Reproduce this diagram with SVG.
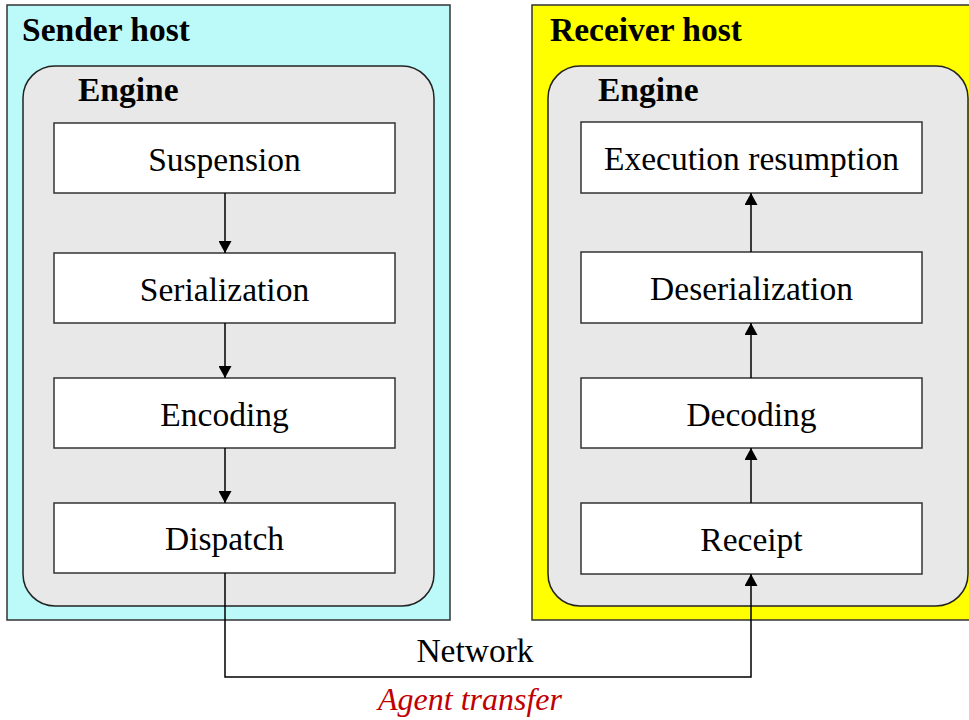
<svg xmlns="http://www.w3.org/2000/svg" width="969" height="720" viewBox="0 0 969 720">
<style>
.host{stroke:#333;stroke-width:1.5}
.engine{fill:#e8e8e8;stroke:#222;stroke-width:1.5}
.box{fill:#fff;stroke:#333;stroke-width:1.5}
.title{font-family:"Liberation Serif","Times New Roman",serif;font-weight:bold;font-size:33.5px;fill:#000}
.lbl{font-family:"Liberation Serif","Times New Roman",serif;font-size:33.5px;fill:#000;text-anchor:middle}
.conn{fill:none;stroke:#000;stroke-width:1.5}
.red{font-family:"Liberation Serif","Times New Roman",serif;font-style:italic;font-size:32px;fill:#c00000;text-anchor:middle}
</style>
<defs>
<marker id="ah" markerWidth="12" markerHeight="13" refX="12" refY="6.5" orient="auto" markerUnits="userSpaceOnUse">
<path d="M0,0 L12,6.5 L0,13 Z" fill="#000"/>
</marker>
</defs>
<rect width="969" height="720" fill="#fff"/>
<g id="sender-host">
<rect class="host" x="7" y="5" width="443" height="615" fill="#bcfafa"/>
<text class="title" x="22" y="41">Sender host</text>
</g>
<g id="sender-engine">
<rect class="engine" x="23" y="66" width="411" height="540" rx="32" ry="32"/>
<text class="title" x="78" y="101">Engine</text>
</g>
<g id="receiver-host">
<rect class="host" x="532" y="5" width="445" height="615" fill="#ffff00"/>
<text class="title" x="550" y="41">Receiver host</text>
</g>
<g id="receiver-engine">
<rect class="engine" x="548" y="66" width="420" height="540" rx="32" ry="32"/>
<text class="title" x="598" y="101">Engine</text>
</g>
<g id="suspension">
<rect class="box" x="54" y="123" width="341" height="70"/>
<text class="lbl" x="224.5" y="171">Suspension</text>
</g>
<g id="serialization">
<rect class="box" x="54" y="253" width="341" height="70"/>
<text class="lbl" x="224.5" y="301">Serialization</text>
</g>
<g id="encoding">
<rect class="box" x="54" y="378" width="341" height="70"/>
<text class="lbl" x="224.5" y="426">Encoding</text>
</g>
<g id="dispatch">
<rect class="box" x="54" y="503" width="341" height="70"/>
<text class="lbl" x="224.5" y="550">Dispatch</text>
</g>
<g id="execution-resumption">
<rect class="box" x="581" y="122" width="341" height="71"/>
<text class="lbl" x="751.5" y="170">Execution resumption</text>
</g>
<g id="deserialization">
<rect class="box" x="581" y="252" width="341" height="71"/>
<text class="lbl" x="751.5" y="300">Deserialization</text>
</g>
<g id="decoding">
<rect class="box" x="581" y="378" width="341" height="70"/>
<text class="lbl" x="751.5" y="426">Decoding</text>
</g>
<g id="receipt">
<rect class="box" x="581" y="503" width="341" height="71"/>
<text class="lbl" x="751.5" y="551">Receipt</text>
</g>
<g id="connectors">
<line class="conn" x1="225" y1="193" x2="225" y2="253" marker-end="url(#ah)"/>
<line class="conn" x1="225" y1="323" x2="225" y2="378" marker-end="url(#ah)"/>
<line class="conn" x1="225" y1="448" x2="225" y2="503" marker-end="url(#ah)"/>
<line class="conn" x1="751" y1="503" x2="751" y2="448" marker-end="url(#ah)"/>
<line class="conn" x1="751" y1="378" x2="751" y2="323" marker-end="url(#ah)"/>
<line class="conn" x1="751" y1="252" x2="751" y2="193" marker-end="url(#ah)"/>
<path class="conn" d="M225,573 V677 H751 V574" marker-end="url(#ah)"/>
<text class="lbl" x="475" y="662">Network</text>
<text class="red" x="470" y="710">Agent transfer</text>
</g>
</svg>
